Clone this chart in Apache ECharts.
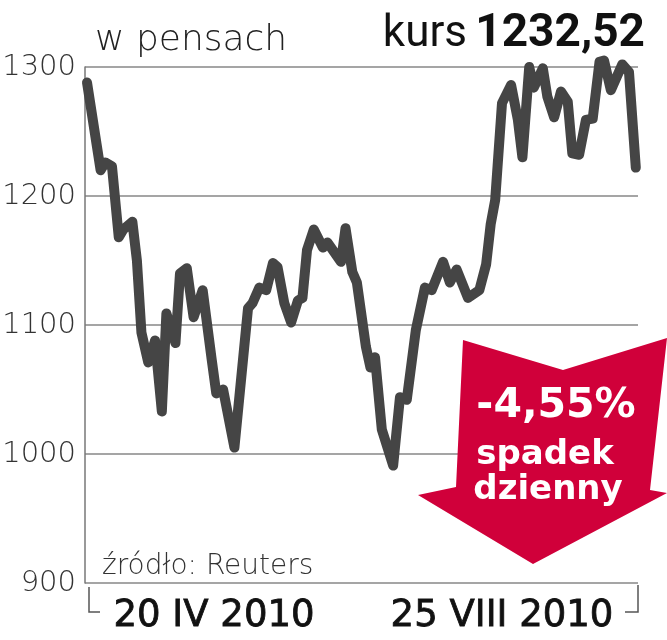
<!DOCTYPE html>
<html>
<head>
<meta charset="utf-8">
<script src="https://cdn.jsdelivr.net/npm/echarts@6/dist/echarts.min.js"></script>
<style>
html,body{margin:0;padding:0;background:#fff;}
#chart{width:667px;height:640px;}
</style>
</head>
<body>
<div id="chart"></div>
<script>
// day offsets counted from 2010-02-22
const days = [1,7,9,12,15,17,21,23,25,28,31,34,36,40,42,45,48,52,56,58,61,66,72,74,77,80,83,85,88,91,94,96,98,101,105,107,113,115,118,120,124,126,128,131,136,139,142,146,150,153,158,161,164,169,174,177,179,181,183,184,188,191,193,196,198,202,204,207,210,213,215,218,221,224,227,229,232,237,240,243];
const values = [1288,1220,1226,1223,1168,1174,1180,1150,1094,1071,1088,1033,1109,1086,1140,1144,1106,1127,1073,1047,1050,1005,1113,1117,1129,1127,1148,1145,1117,1102,1119,1121,1158,1174,1160,1164,1149,1175,1141,1133,1083,1067,1075,1019,991,1044,1042,1096,1129,1127,1149,1133,1143,1121,1127,1147,1178,1197,1247,1272,1286,1259,1230,1300,1284,1299,1277,1261,1281,1273,1233,1232,1259,1260,1304,1305,1282,1302,1296,1222];
const xTickDays = [57, 184];
const xTickLabels = ['20 IV 2010', '25 VIII 2010'];
const yTicks = [900, 1000, 1100, 1200, 1300];
const unitLabel = 'w pensach';
const rateLabel = 'kurs';
const rateValue = '1232,52';
const changeLabel = ['-4,55%', 'spadek', 'dzienny'];
const sourceLabel = 'źródło: Reuters';

const chart = echarts.init(document.getElementById('chart'), null, {renderer: 'canvas'});
const seriesData = days.map((d, i) => [d, values[i]]);

chart.setOption({
  animation: false,
  grid: {left: 85, right: 29, top: 67, bottom: 57, containLabel: false, outerBoundsMode: 'none'},
  xAxis: {
    type: 'value',
    min: 0.11,
    max: 243.97,
    axisLine: {show: false},
    axisTick: {show: false},
    splitLine: {show: false},
    axisLabel: {
      customValues: xTickDays,
      formatter: v => xTickLabels[xTickDays.indexOf(Math.round(v))] || '',
      fontFamily: 'DejaVu Sans',
      fontSize: 37,
      color: '#111',
      textBorderColor: '#111',
      textBorderWidth: 0.8,
      margin: 15
    }
  },
  yAxis: {
    type: 'value',
    min: yTicks[0],
    max: yTicks[yTicks.length - 1],
    interval: 100,
    axisLine: {show: true, lineStyle: {color: '#777', width: 1.5}},
    axisTick: {show: false},
    splitLine: {show: true, lineStyle: {color: '#a5a5a5', width: 2}},
    axisLabel: {
      formatter: v => String(v),
      fontFamily: 'DejaVu Sans',
      fontWeight: 200,
      fontSize: 29,
      color: '#333',
      margin: 9
    }
  },
  series: [{
    type: 'line',
    data: seriesData,
    symbol: 'none',
    clip: false,
    z: 3,
    lineStyle: {color: '#454545', width: 10, join: 'round', cap: 'round'}
  }],
  graphic: [
    {type: 'text', x: 95, y: 40.6, z: 10, style: {text: unitLabel, font: '200 36px "DejaVu Sans"', fill: '#222', align: 'left', verticalAlign: 'middle'}},
    {type: 'text', x: 645, y: 34, z: 10, style: {text: rateValue, font: 'bold 46px Roboto', fill: '#111', align: 'right', verticalAlign: 'middle'}},
    {type: 'text', x: 467, y: 34.8, z: 10, style: {text: rateLabel, font: '44px Roboto', fill: '#111', align: 'right', verticalAlign: 'middle'}},
    {type: 'text', x: 102, y: 567, z: 10, style: {text: sourceLabel, font: '200 28px "DejaVu Sans"', fill: '#333', align: 'left', verticalAlign: 'middle'}},
    {type: 'polyline', z: 10, shape: {points: [[89, 587], [89, 612], [100, 612]]}, style: {stroke: '#555', lineWidth: 1.5, fill: null}},
    {type: 'polyline', z: 10, shape: {points: [[638, 585], [638, 612], [625, 612]]}, style: {stroke: '#555', lineWidth: 1.5, fill: null}},
    {type: 'polygon', z: 5, shape: {points: [[463, 340], [563, 370], [667, 338], [650, 490], [667, 493], [533, 564], [418, 495], [456, 487]]}, style: {fill: '#d0003a'}},
    {type: 'text', x: 556, y: 406, z: 11, style: {text: changeLabel[0], font: 'bold 41px "DejaVu Sans"', fill: '#fff', align: 'center', verticalAlign: 'middle'}},
    {type: 'text', x: 545, y: 455, z: 11, style: {text: changeLabel[1], font: 'bold 34px "DejaVu Sans"', fill: '#fff', align: 'center', verticalAlign: 'middle'}},
    {type: 'text', x: 548, y: 490, z: 11, style: {text: changeLabel[2], font: 'bold 34px "DejaVu Sans"', fill: '#fff', align: 'center', verticalAlign: 'middle'}}
  ]
});
</script>
</body>
</html>
